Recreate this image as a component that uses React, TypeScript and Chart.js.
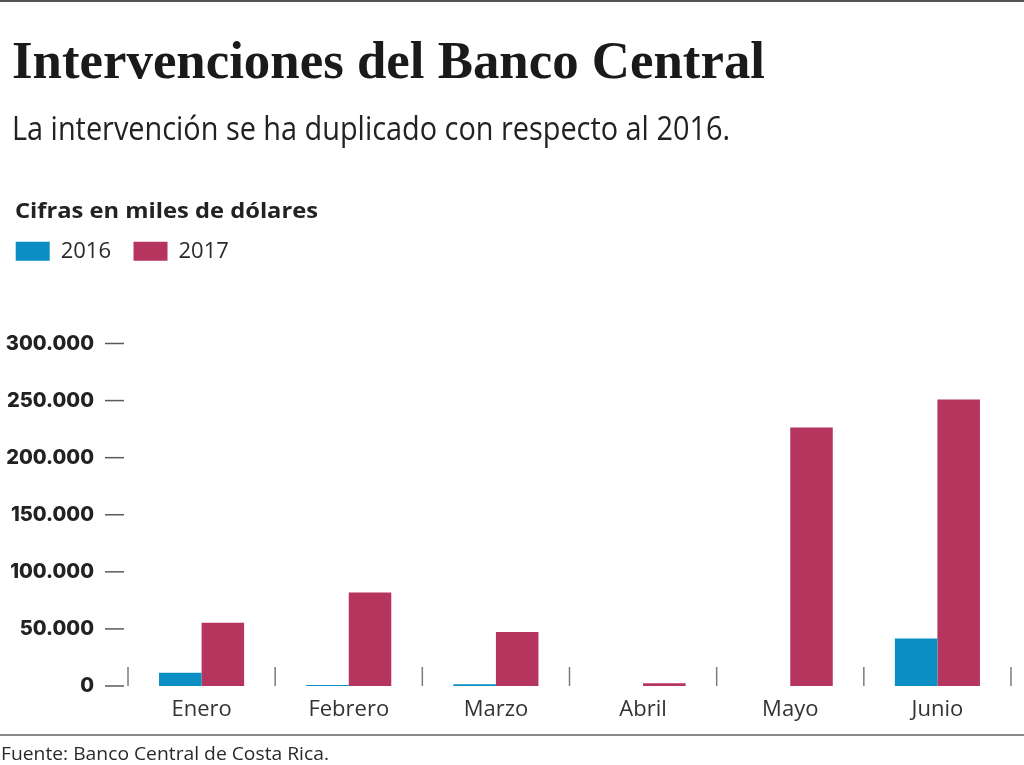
import React, { useEffect, useLayoutEffect, useRef } from "react";
import { Chart, registerables } from "chart.js";

Chart.register(...registerables);

// ---- data ----
const categories = ["Enero", "Febrero", "Marzo", "Abril", "Mayo", "Junio"];
const seriesLabels = ["2016", "2017"];
const values2016 = [11600, 800, 1500, 0, 0, 41700];
const values2017 = [55300, 81900, 47200, 2400, 226400, 250900];
const yTicks = [0, 50000, 100000, 150000, 200000, 250000, 300000];

const TITLE = "Intervenciones del Banco Central";
const SUBTITLE = "La intervención se ha duplicado con respecto al 2016.";
const UNITS = "Cifras en miles de dólares";
const SOURCE = "Fuente: Banco Central de Costa Rica.";

const BLUE = "#0a8ec3";
const RED = "#b6355f";

const fmt = (v: number) => String(v).replace(/\B(?=(\d{3})+(?!\d))/g, ".");

function FitText({ text, width, style }: { text: string; width: number; style: React.CSSProperties }) {
  const ref = useRef<HTMLSpanElement>(null);
  useLayoutEffect(() => {
    const fit = () => {
      const el = ref.current;
      if (!el) return;
      el.style.transform = "none";
      const w = el.getBoundingClientRect().width;
      if (w > 0) el.style.transform = `scaleX(${width / w})`;
    };
    fit();
    if ((document as any).fonts && (document as any).fonts.ready) {
      (document as any).fonts.ready.then(fit);
    }
  }, [text, width]);
  return (
    <span
      ref={ref}
      style={{
        position: "absolute",
        whiteSpace: "nowrap",
        transformOrigin: "0 0",
        lineHeight: 1,
        ...style,
      }}
    >
      {text}
    </span>
  );
}

const LEGEND_TOP = 217.8;
const CHART_TOP = 343.5;

const legendSpacer = {
  id: "legendSpacer",
  beforeLayout(chart: any) {
    const lg = chart.legend;
    if (lg && !lg.__patched) {
      const orig = lg.fit;
      lg.fit = function () {
        orig.call(this);
        this.height = CHART_TOP - LEGEND_TOP;
      };
      lg.__patched = true;
    }
  },
};

const axisMarks = {
  id: "axisMarks",
  afterDraw(chart: any) {
    const { ctx, chartArea } = chart;
    const x = chart.scales.x;
    const y = chart.scales.y;
    ctx.save();
    ctx.strokeStyle = "#5a5a5a";
    ctx.lineWidth = 1.5;
    yTicks.forEach((v) => {
      const py = y.getPixelForValue(v);
      ctx.beginPath();
      ctx.moveTo(chartArea.left - 23, py);
      ctx.lineTo(chartArea.left - 4, py);
      ctx.stroke();
    });
    ctx.strokeStyle = "#7a7a7a";
    for (let i = 0; i <= categories.length; i++) {
      const px = x.getPixelForValue(i - 0.5);
      ctx.beginPath();
      ctx.moveTo(px, chartArea.bottom - 19);
      ctx.lineTo(px, chartArea.bottom);
      ctx.stroke();
    }
    ctx.restore();
  },
};

export default function App() {
  const canvasRef = useRef<HTMLCanvasElement>(null);

  useEffect(() => {
    if (!canvasRef.current) return;
    const chart = new Chart(canvasRef.current, {
      type: "bar",
      data: {
        labels: categories,
        datasets: [
          {
            label: seriesLabels[0],
            data: values2016,
            backgroundColor: BLUE,
            borderWidth: 0,
            categoryPercentage: 0.578,
            barPercentage: 1,
          },
          {
            label: seriesLabels[1],
            data: values2017,
            backgroundColor: RED,
            borderWidth: 0,
            categoryPercentage: 0.578,
            barPercentage: 1,
          },
        ],
      },
      options: {
        responsive: false,
        maintainAspectRatio: false,
        animation: false,
        layout: { padding: { left: -6.8, right: 13, top: LEGEND_TOP, bottom: 39 } },
        plugins: {
          tooltip: { enabled: false },
          title: { display: false },
          legend: {
            display: true,
            position: "top",
            align: "start",
            labels: {
              boxWidth: 34,
              boxHeight: 19,
              padding: 22.5,
              color: "#2a2a2a",
              font: { family: "'Open Sans'", size: 22 },
            },
          },
        },
        scales: {
          x: {
            grid: { display: false, drawTicks: false },
            border: { display: false },
            ticks: {
              color: "#333",
              padding: 11,
              maxRotation: 0,
              font: { family: "'Open Sans'", size: 22 },
            },
            afterFit: (s: any) => {
              s.height = 40;
            },
          },
          y: {
            min: 0,
            max: 300000,
            grid: { display: false, drawTicks: false },
            border: { display: false },
            afterBuildTicks: (s: any) => {
              s.ticks = yTicks.map((v) => ({ value: v }));
            },
            ticks: {
              color: "#222",
              padding: 34,
              font: { family: "Inter", size: 20, weight: "800" },
              callback: (v: any) => fmt(Number(v)),
            },
            afterFit: (s: any) => {
              s.width = 134.8;
            },
          },
        },
      },
      plugins: [legendSpacer, axisMarks],
    } as any);
    return () => chart.destroy();
  }, []);

  return (
    <div
      style={{
        position: "fixed",
        left: 0,
        top: 0,
        width: 1024,
        height: 765,
        background: "#fff",
        overflow: "hidden",
      }}
    >
      <div style={{ position: "absolute", left: 0, top: 0, width: 1024, height: 2, background: "#555" }} />
      <canvas
        ref={canvasRef}
        width={1024}
        height={765}
        style={{ position: "absolute", left: 0, top: 0, width: 1024, height: 765, display: "block" }}
      />
      <FitText
        text={TITLE}
        width={753}
        style={{ left: 12, top: 33.6, fontFamily: "'Liberation Serif'", fontWeight: 700, fontSize: 53, color: "#1a1a1a" }}
      />
      <FitText
        text={SUBTITLE}
        width={718}
        style={{ left: 12, top: 111.6, fontFamily: "'Open Sans'", fontWeight: 400, fontSize: 32, color: "#222" }}
      />
      <FitText
        text={UNITS}
        width={303}
        style={{ left: 15, top: 200, fontFamily: "'Open Sans'", fontWeight: 700, fontSize: 21, color: "#222" }}
      />
      <div style={{ position: "absolute", left: 0, top: 734, width: 1024, height: 2, background: "#8a8a8a" }} />
      <FitText
        text={SOURCE}
        width={328}
        style={{ left: 1, top: 744, fontFamily: "'Open Sans'", fontWeight: 400, fontSize: 18, color: "#2a2a2a" }}
      />
    </div>
  );
}
